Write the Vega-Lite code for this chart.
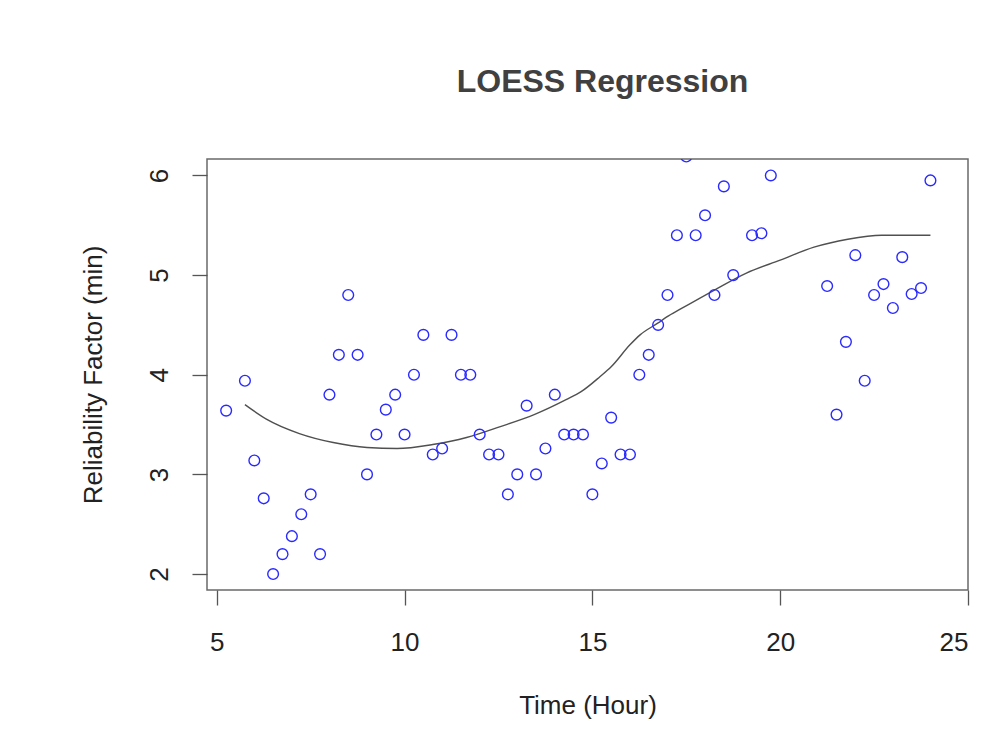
{
  "$schema": "https://vega.github.io/schema/vega-lite/v6.json",
  "autosize": {"type": "none"},
  "padding": {"left": 207, "top": 159, "right": 17, "bottom": 154},
  "width": 761,
  "height": 431,
  "background": "white",
  "title": {
    "text": "LOESS Regression",
    "font": "Liberation Sans",
    "fontSize": 32,
    "fontWeight": "bold",
    "color": "#404040",
    "anchor": "middle",
    "dx": 15,
    "offset": 35,
    "baseline": "alphabetic"
  },
  "config": {
    "view": {"stroke": "#6a6a6a", "strokeWidth": 1.5},
    "axis": {
      "grid": false,
      "domain": false,
      "tickColor": "#555555",
      "tickSize": 15,
      "tickWidth": 1.3,
      "labelFont": "Liberation Sans",
      "labelFontSize": 26,
      "labelColor": "#222222",
      "titleFont": "Liberation Sans",
      "titleFontSize": 26,
      "titleFontWeight": "normal",
      "titleColor": "#222222"
    }
  },
  "datasets": {
    "obs": [
      {"time": 5.25, "factor": 3.64}, {"time": 5.75, "factor": 3.94}, {"time": 6.0, "factor": 3.14},
      {"time": 6.25, "factor": 2.76}, {"time": 6.5, "factor": 2.0}, {"time": 6.75, "factor": 2.2},
      {"time": 7.0, "factor": 2.38}, {"time": 7.25, "factor": 2.6}, {"time": 7.5, "factor": 2.8},
      {"time": 7.75, "factor": 2.2}, {"time": 8.0, "factor": 3.8}, {"time": 8.25, "factor": 4.2},
      {"time": 8.5, "factor": 4.8}, {"time": 8.75, "factor": 4.2}, {"time": 9.0, "factor": 3.0},
      {"time": 9.25, "factor": 3.4}, {"time": 9.5, "factor": 3.65}, {"time": 9.75, "factor": 3.8},
      {"time": 10.0, "factor": 3.4}, {"time": 10.25, "factor": 4.0}, {"time": 10.5, "factor": 4.4},
      {"time": 10.75, "factor": 3.2}, {"time": 11.0, "factor": 3.26}, {"time": 11.25, "factor": 4.4},
      {"time": 11.5, "factor": 4.0}, {"time": 11.75, "factor": 4.0}, {"time": 12.0, "factor": 3.4},
      {"time": 12.25, "factor": 3.2}, {"time": 12.5, "factor": 3.2}, {"time": 12.75, "factor": 2.8},
      {"time": 13.0, "factor": 3.0}, {"time": 13.25, "factor": 3.69}, {"time": 13.5, "factor": 3.0},
      {"time": 13.75, "factor": 3.26}, {"time": 14.0, "factor": 3.8}, {"time": 14.25, "factor": 3.4},
      {"time": 14.5, "factor": 3.4}, {"time": 14.75, "factor": 3.4}, {"time": 15.0, "factor": 2.8},
      {"time": 15.25, "factor": 3.11}, {"time": 15.5, "factor": 3.57}, {"time": 15.75, "factor": 3.2},
      {"time": 16.0, "factor": 3.2}, {"time": 16.25, "factor": 4.0}, {"time": 16.5, "factor": 4.2},
      {"time": 16.75, "factor": 4.5}, {"time": 17.0, "factor": 4.8}, {"time": 17.25, "factor": 5.4},
      {"time": 17.5, "factor": 6.19}, {"time": 17.75, "factor": 5.4}, {"time": 18.0, "factor": 5.6},
      {"time": 18.25, "factor": 4.8}, {"time": 18.5, "factor": 5.89}, {"time": 18.75, "factor": 5.0},
      {"time": 19.25, "factor": 5.4}, {"time": 19.5, "factor": 5.42}, {"time": 19.75, "factor": 6.0},
      {"time": 21.25, "factor": 4.89}, {"time": 21.5, "factor": 3.6}, {"time": 21.75, "factor": 4.33},
      {"time": 22.0, "factor": 5.2}, {"time": 22.25, "factor": 3.94}, {"time": 22.5, "factor": 4.8},
      {"time": 22.75, "factor": 4.91}, {"time": 23.0, "factor": 4.67}, {"time": 23.25, "factor": 5.18},
      {"time": 23.5, "factor": 4.81}, {"time": 23.75, "factor": 4.87}, {"time": 24.0, "factor": 5.95}
    ],
    "fit": [
      {"time": 5.75, "factor": 3.70}, {"time": 6.32, "factor": 3.555}, {"time": 7.2, "factor": 3.41},
      {"time": 8.1, "factor": 3.32}, {"time": 9.0, "factor": 3.27}, {"time": 9.8, "factor": 3.26},
      {"time": 10.75, "factor": 3.30}, {"time": 11.65, "factor": 3.37}, {"time": 12.55, "factor": 3.48},
      {"time": 13.45, "factor": 3.60}, {"time": 14.3, "factor": 3.75}, {"time": 14.7, "factor": 3.83},
      {"time": 15.2, "factor": 3.98}, {"time": 15.5, "factor": 4.08}, {"time": 16.0, "factor": 4.30},
      {"time": 16.27, "factor": 4.40}, {"time": 16.75, "factor": 4.52}, {"time": 16.98, "factor": 4.58},
      {"time": 17.35, "factor": 4.66}, {"time": 18.25, "factor": 4.85},
      {"time": 19.1, "factor": 5.02}, {"time": 20.0, "factor": 5.15}, {"time": 20.9, "factor": 5.28},
      {"time": 21.8, "factor": 5.36}, {"time": 22.7, "factor": 5.40}, {"time": 24.0, "factor": 5.40}
    ]
  },
  "encoding": {
    "x": {
      "field": "time",
      "type": "quantitative",
      "title": "Time (Hour)",
      "scale": {"domain": [4.74, 25.0], "nice": false, "zero": false},
      "axis": {"values": [5, 10, 15, 20, 25], "labelPadding": 24, "titlePadding": 58, "titleBaseline": "alphabetic"}
    },
    "y": {
      "field": "factor",
      "type": "quantitative",
      "title": "Reliability Factor (min)",
      "scale": {"domain": [1.84, 6.165], "nice": false, "zero": false},
      "axis": {"values": [2, 3, 4, 5, 6], "labelAngle": 270, "labelPadding": 20, "titlePadding": 40}
    }
  },
  "layer": [
    {
      "data": {"name": "fit"},
      "mark": {"type": "line", "color": "#505050", "strokeWidth": 1.4, "interpolate": "monotone", "clip": true}
    },
    {
      "data": {"name": "obs"},
      "mark": {"type": "point", "shape": "circle", "filled": false, "color": "#2a2aff", "strokeWidth": 1.4, "size": 115, "opacity": 1, "clip": true}
    }
  ]
}
